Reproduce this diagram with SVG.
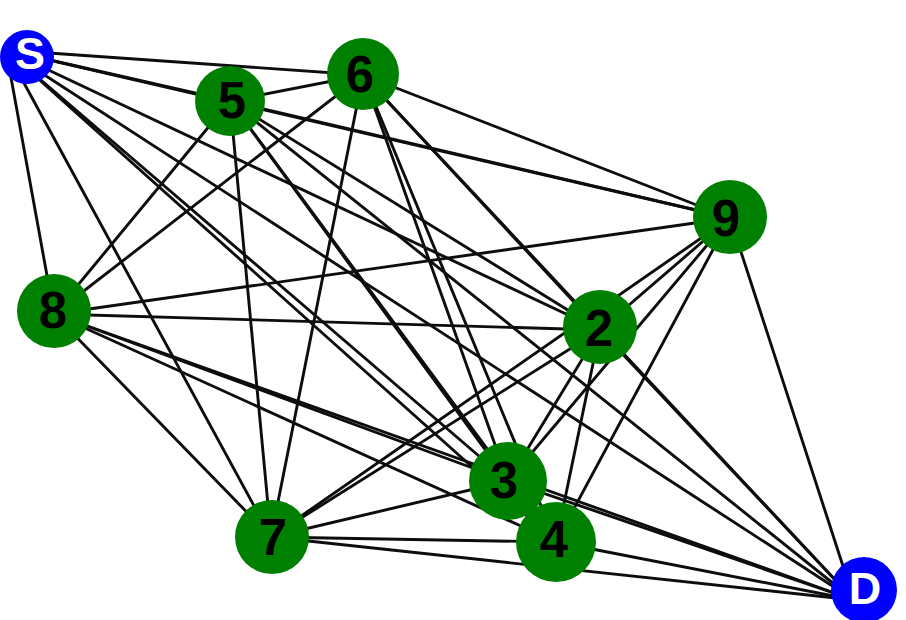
<svg xmlns="http://www.w3.org/2000/svg" width="906" height="620" viewBox="0 0 906 620">
<style>
.e line{stroke:#0d0d0d;stroke-width:2.9;stroke-linecap:round}
.g{fill:#008000}
.b{fill:#0000ff}
.lg{font-family:"Liberation Sans",Arial,sans-serif;font-weight:bold;font-size:51px;fill:#000;text-anchor:middle}
.lb{font-family:"Liberation Sans",Arial,sans-serif;font-weight:bold;font-size:45px;fill:#fff;text-anchor:middle}
</style>
<rect width="906" height="620" fill="#ffffff"/>
<g id="connectors" class="e">
<line x1="6" y1="50" x2="230" y2="101"/>
<line x1="6" y1="50" x2="363" y2="75"/>
<line x1="6" y1="50" x2="730" y2="218"/>
<line x1="6" y1="50" x2="54" y2="314"/>
<line x1="6" y1="50" x2="600" y2="330"/>
<line x1="6" y1="50" x2="508" y2="481"/>
<line x1="6" y1="50" x2="556" y2="542"/>
<line x1="6" y1="50" x2="271" y2="537"/>
<line x1="6" y1="50" x2="854" y2="600"/>
<line x1="230" y1="101" x2="363" y2="75"/>
<line x1="230" y1="101" x2="730" y2="218"/>
<line x1="230" y1="101" x2="54" y2="314"/>
<line x1="230" y1="101" x2="600" y2="330"/>
<line x1="230" y1="101" x2="508" y2="481"/>
<line x1="230" y1="101" x2="556" y2="542"/>
<line x1="230" y1="101" x2="271" y2="537"/>
<line x1="230" y1="101" x2="854" y2="600"/>
<line x1="363" y1="75" x2="730" y2="218"/>
<line x1="363" y1="75" x2="54" y2="314"/>
<line x1="363" y1="75" x2="600" y2="330"/>
<line x1="363" y1="75" x2="508" y2="481"/>
<line x1="363" y1="75" x2="556" y2="542"/>
<line x1="363" y1="75" x2="271" y2="537"/>
<line x1="363" y1="75" x2="854" y2="600"/>
<line x1="730" y1="218" x2="54" y2="314"/>
<line x1="730" y1="218" x2="600" y2="330"/>
<line x1="730" y1="218" x2="508" y2="481"/>
<line x1="730" y1="218" x2="556" y2="542"/>
<line x1="730" y1="218" x2="271" y2="537"/>
<line x1="730" y1="218" x2="854" y2="600"/>
<line x1="54" y1="314" x2="600" y2="330"/>
<line x1="54" y1="314" x2="508" y2="481"/>
<line x1="54" y1="314" x2="556" y2="542"/>
<line x1="54" y1="314" x2="271" y2="537"/>
<line x1="54" y1="314" x2="854" y2="600"/>
<line x1="600" y1="330" x2="508" y2="481"/>
<line x1="600" y1="330" x2="556" y2="542"/>
<line x1="600" y1="330" x2="271" y2="537"/>
<line x1="600" y1="330" x2="854" y2="600"/>
<line x1="508" y1="481" x2="556" y2="542"/>
<line x1="508" y1="481" x2="271" y2="537"/>
<line x1="508" y1="481" x2="854" y2="600"/>
<line x1="556" y1="542" x2="271" y2="537"/>
<line x1="556" y1="542" x2="854" y2="600"/>
<line x1="271" y1="537" x2="854" y2="600"/>
</g>
<g id="node-S"><circle class="b" cx="27" cy="57" r="27"/><text class="lb" x="30" y="69">S</text></g>
<g id="node-5"><circle class="g" cx="230" cy="101" r="35"/><text class="lg" x="232" y="118">5</text></g>
<g id="node-6"><circle class="g" cx="363" cy="74" r="36"/><text class="lg" x="360" y="92">6</text></g>
<g id="node-9"><circle class="g" cx="730" cy="217" r="37"/><text class="lg" x="726" y="236">9</text></g>
<g id="node-8"><circle class="g" cx="54" cy="311" r="37"/><text class="lg" x="53" y="328">8</text></g>
<g id="node-2"><circle class="g" cx="600" cy="327" r="37"/><text class="lg" x="599" y="346">2</text></g>
<g id="node-3"><circle class="g" cx="508" cy="481" r="39"/><text class="lg" x="504" y="498">3</text></g>
<g id="node-4"><circle class="g" cx="556" cy="542" r="40"/><text class="lg" x="554" y="557">4</text></g>
<g id="node-7"><circle class="g" cx="272" cy="537" r="37"/><text class="lg" x="273" y="555">7</text></g>
<g id="node-D"><circle class="b" cx="864" cy="590" r="33"/><text class="lb" x="865" y="604">D</text></g>
</svg>
